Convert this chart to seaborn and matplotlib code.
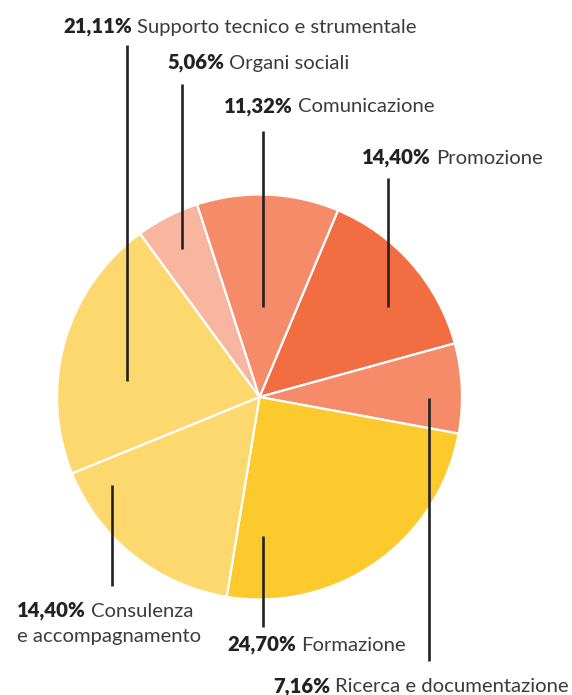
import matplotlib
matplotlib.use("Agg")
import matplotlib.pyplot as plt
import seaborn as sns

sns.set_theme(style="white")
plt.rcParams["font.family"] = ["Lato", "DejaVu Sans"]

# slices, clockwise from the top-right
categories = ["Promozione", "Ricerca e documentazione", "Formazione",
              "Consulenza\ne accompagnamento", "Supporto tecnico e strumentale",
              "Organi sociali", "Comunicazione"]
# slice sizes as drawn (the Consulenza slice is the remainder to 100%)
shares = [14.40, 7.16, 24.70, 16.25, 21.11, 5.06, 11.32]
# percentages as printed on the chart
printed = ["14,40%", "7,16%", "24,70%", "14,40%", "21,11%", "5,06%", "11,32%"]
colors = ["#F36D42", "#F58B68", "#FDCA2E", "#FDD86E", "#FDD86E", "#F8B6A0", "#F58B68"]

# layout in pixels (y measured from the top): leader x, leader top, leader bottom,
# label left, label baseline
W, H = 572, 695
leaders = [(388, 178, 307), (429, 398, 661), (263, 536, 627), (112, 485, 586),
           (127, 45, 381), (182, 84, 249), (263, 131, 307)]
label_pos = [(362, 163.5), (273, 692), (227, 651), (17, 617), (63, 32.5),
             (167, 68.5), (224, 112.5)]

fig = plt.figure(figsize=(W / 100, H / 100), dpi=100)
ax = fig.add_axes([0, 0, 1, 1])

ax.pie(shares, colors=sns.color_palette(colors), startangle=67.2, counterclock=False,
       center=(259.5, H - 397), radius=202.5,
       wedgeprops=dict(edgecolor="white", linewidth=1.6))
ax.set_xlim(0, W)
ax.set_ylim(0, H)
ax.set_aspect("equal")
ax.axis("off")

for x, y0, y1 in leaders:
    ax.plot([x, x], [H - y0, H - y1], color="#222222", lw=1.9, solid_capstyle="butt")

# scale the font so the widest label fits its measured width
renderer = fig.canvas.get_renderer()
probe = ax.text(0, 0, "7,16% Ricerca e documentazione", fontsize=14)
fs = 14 * 295 / probe.get_window_extent(renderer).width
probe.remove()
line_gap = 25

for cat, pct, (x, base) in zip(categories, printed, label_pos):
    lines = cat.split("\n")
    t = ax.text(x, H - base, pct, fontsize=fs, fontweight="heavy", color="#222222",
                va="baseline", ha="left")
    w = t.get_window_extent(renderer).width
    ax.text(x + w + 5, H - base, lines[0], fontsize=fs, color="#3c3c3c",
            va="baseline", ha="left")
    for i, extra in enumerate(lines[1:], start=1):
        ax.text(x, H - base - i * line_gap, extra, fontsize=fs, color="#3c3c3c",
                va="baseline", ha="left")

fig.savefig("out.png", dpi=100)
